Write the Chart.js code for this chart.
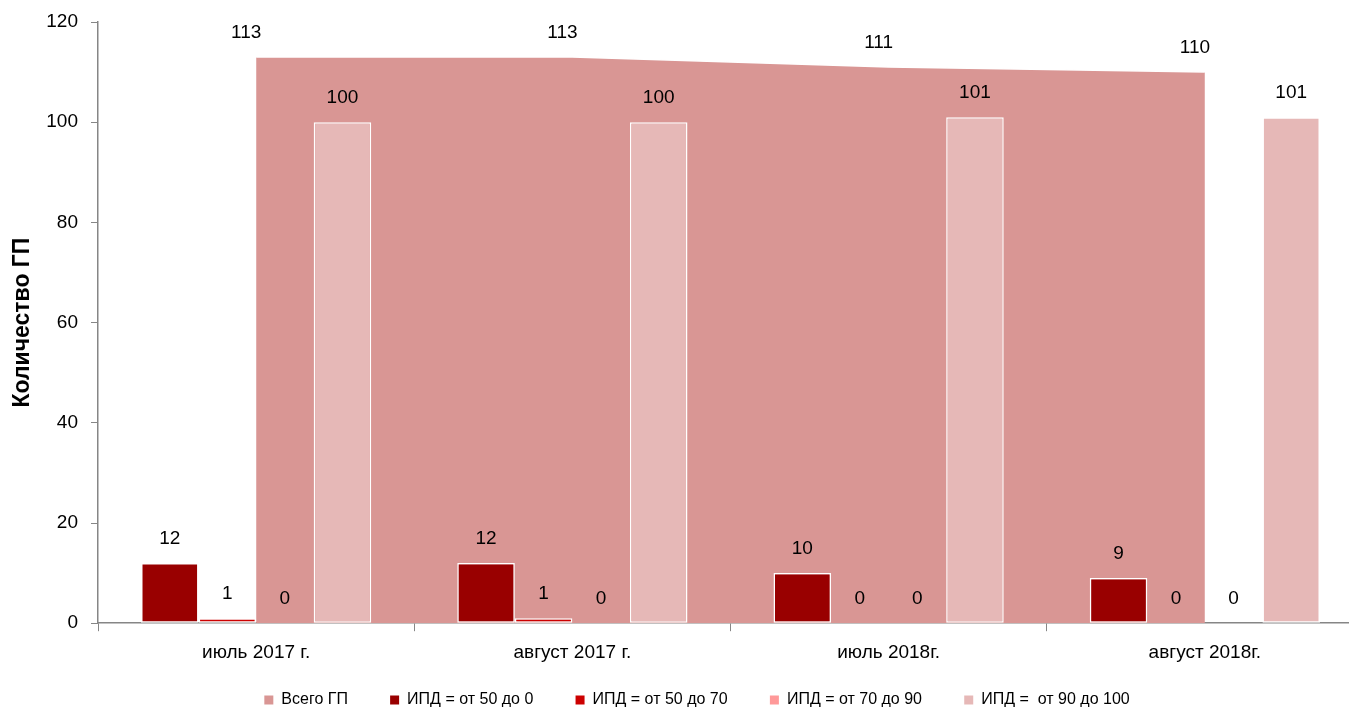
<!DOCTYPE html>
<html lang="ru">
<head>
<meta charset="utf-8">
<script src="https://cdn.jsdelivr.net/npm/chart.js@4/dist/chart.umd.min.js"></script>
<style>
  html, body { margin: 0; padding: 0; background: #fff; overflow: hidden; }
  #wrap { width: 1380px; height: 707px; position: relative; }
</style>
</head>
<body>
<div id="wrap"><canvas id="chart"></canvas></div>
<script>
// ── Данные ─────────────────────────────────────────
const categories = ['июль 2017 г.', 'август 2017 г.', 'июль 2018г.', 'август 2018г.'];
const totalGP = [113, 113, 111, 110];
const ipd50to0 = [12, 12, 10, 9];
const ipd50to70 = [1, 1, 0, 0];
const ipd70to90 = [0, 0, 0, 0];
const ipd90to100 = [100, 100, 101, 101];
const yTicks = [0, 20, 40, 60, 80, 100, 120];

const FONT = "'Liberation Sans', Arial, sans-serif";
// отступ между элементами легенды (неразрывные пробелы после текста)
const LEGEND_GAP = '\u00A0'.repeat(5);

// Подписи значений над столбцами / точками
const valueLabels = {
  id: 'valueLabels',
  afterDatasetsDraw(chart) {
    const ctx = chart.ctx;
    ctx.save();
    ctx.font = `19px ${FONT}`;
    ctx.fillStyle = '#000';
    ctx.textAlign = 'center';
    ctx.textBaseline = 'middle';
    chart.data.datasets.forEach((ds, i) => {
      const meta = chart.getDatasetMeta(i);
      const dx = ds.labelDx || 0;
      meta.data.forEach((el, j) => {
        ctx.fillText(String(ds.data[j]), el.x + dx, el.y - 24);
      });
    });
    ctx.restore();
  },
};

const barCommon = {
  type: 'bar',
  borderColor: '#ffffff',
  borderWidth: 1.5,
  borderSkipped: false,
  categoryPercentage: 0.728,
  barPercentage: 1,
  order: 1,
};

new Chart(document.getElementById('chart'), {
  data: {
    labels: categories,
    datasets: [
      {
        type: 'line',
        label: 'Всего ГП',
        data: totalGP,
        backgroundColor: '#D99694',
        borderColor: '#ffffff',
        borderWidth: 1.5,
        fill: 'origin',
        tension: 0,
        pointRadius: 0,
        pointHoverRadius: 0,
        order: 2,
        labelDx: -10,
      },
      { ...barCommon, label: 'ИПД = от 50 до 0', data: ipd50to0, backgroundColor: '#990000' },
      { ...barCommon, label: 'ИПД = от 50 до 70', data: ipd50to70, backgroundColor: '#CC0000' },
      { ...barCommon, label: 'ИПД = от 70 до 90', data: ipd70to90, backgroundColor: '#FF9999' },
      { ...barCommon, label: 'ИПД =  от 90 до 100', data: ipd90to100, backgroundColor: '#E6B8B7' },
    ],
  },
  options: {
    responsive: true,
    maintainAspectRatio: false,
    animation: false,
    layout: { padding: { top: 22, right: 17, bottom: -11, left: 31 } },
    plugins: {
      tooltip: { enabled: false },
      legend: {
        position: 'bottom',
        labels: {
          color: '#000',
          boxWidth: 9,
          boxHeight: 9,
          padding: 20,
          font: { family: FONT, size: 16 },
          generateLabels(chart) {
            const n = chart.data.datasets.length;
            return chart.data.datasets.map((ds, i) => ({
              text: i < n - 1 ? ds.label + LEGEND_GAP : ds.label,
              fillStyle: ds.backgroundColor,
              strokeStyle: ds.backgroundColor,
              lineWidth: 0,
              hidden: false,
              datasetIndex: i,
            }));
          },
        },
      },
    },
    scales: {
      x: {
        offset: true,
        afterFit(scale) {
          scale.height -= 2;
        },
        grid: {
          offset: true,
          drawOnChartArea: false,
          drawTicks: true,
          tickLength: 8,
          color: '#868686',
        },
        border: { color: '#868686', width: 1.5 },
        ticks: { color: '#000', font: { family: FONT, size: 19 }, padding: 10 },
      },
      y: {
        min: 0,
        max: 120,
        afterBuildTicks(scale) {
          scale.ticks = yTicks.map((v) => ({ value: v }));
        },
        afterFit(scale) {
          scale.width = 67;
          scale.paddingTop = 0;
        },
        grid: { drawOnChartArea: false, drawTicks: true, tickLength: 7, color: '#868686' },
        border: { color: '#868686', width: 1.5 },
        ticks: { color: '#000', font: { family: FONT, size: 19 }, padding: 13 },
        title: {
          display: true,
          text: 'Количество ГП',
          color: '#000',
          font: { family: FONT, size: 23, weight: 'bold' },
          padding: { top: -22, bottom: 0 },
        },
      },
    },
  },
  plugins: [valueLabels],
});
</script>
</body>
</html>
